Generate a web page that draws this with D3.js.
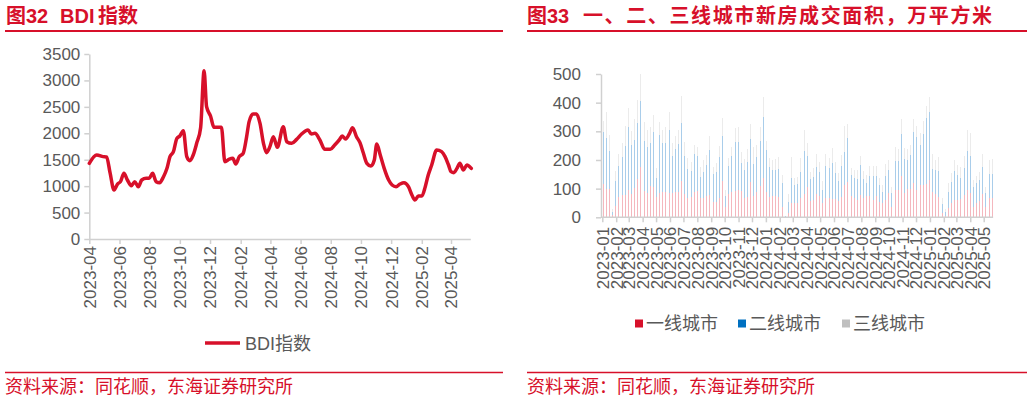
<!DOCTYPE html>
<html><head><meta charset="utf-8">
<script src="https://cdn.jsdelivr.net/npm/d3@7"></script>
<style>
html,body{margin:0;padding:0;background:#fff;}
svg{display:block;font-family:"Liberation Sans","Noto Sans CJK SC",sans-serif;}
</style></head>
<body>
<svg id="c" width="1032" height="402"></svg>
<script>
// ---------------- DATA ----------------
// Left chart: BDI index
const bdiDates = ["2023-04-01","2023-04-16","2023-04-29","2023-05-06","2023-05-13","2023-05-21","2023-05-28","2023-06-03","2023-06-10","2023-06-17","2023-06-25","2023-07-02","2023-07-09","2023-07-16","2023-07-25","2023-07-31","2023-08-07","2023-08-14","2023-08-21","2023-08-29","2023-09-05","2023-09-11","2023-09-18","2023-09-25","2023-10-01","2023-10-08","2023-10-15","2023-10-21","2023-10-28","2023-11-04","2023-11-12","2023-11-19","2023-11-24","2023-12-02","2023-12-09","2023-12-18","2023-12-24","2023-12-31","2024-01-09","2024-01-16","2024-01-22","2024-01-29","2024-02-06","2024-02-13","2024-02-18","2024-02-26","2024-03-04","2024-03-11","2024-03-18","2024-03-24","2024-03-31","2024-04-07","2024-04-15","2024-04-27","2024-05-04","2024-05-14","2024-05-24","2024-06-03","2024-06-16","2024-06-23","2024-06-30","2024-07-10","2024-07-20","2024-07-31","2024-08-09","2024-08-19","2024-08-24","2024-08-31","2024-09-08","2024-09-14","2024-09-22","2024-09-29","2024-10-06","2024-10-13","2024-10-21","2024-10-28","2024-11-02","2024-11-09","2024-11-17","2024-11-26","2024-12-03","2024-12-11","2024-12-19","2024-12-27","2025-01-05","2025-01-12","2025-01-18","2025-01-25","2025-02-01","2025-02-08","2025-02-14","2025-02-21","2025-03-03","2025-03-13","2025-03-20","2025-03-27","2025-04-01","2025-04-07","2025-04-13","2025-04-19","2025-04-26","2025-05-03","2025-05-12"];
const bdiValues = [1431,1589,1558,1550,1250,927,1040,1085,1242,1116,1009,1085,990,1116,1148,1148,1242,1085,1066,1179,1337,1558,1652,1904,1949,2049,1558,1482,1589,1810,2106,3185,2503,2327,2112,2112,2112,1463,1513,1526,1419,1558,1621,1936,2220,2365,2365,2188,1810,1633,1747,1936,1734,2125,1841,1810,1885,1986,2062,1986,1999,1873,1696,1696,1778,1885,1949,1892,1999,2106,1936,1822,1621,1431,1381,1495,1797,1589,1337,1116,1022,990,1040,1066,990,832,738,813,813,990,1211,1400,1684,1652,1558,1400,1274,1255,1337,1431,1305,1400,1337];
const bdiTicks = ["2023-04","2023-06","2023-08","2023-10","2023-12","2024-02","2024-04","2024-06","2024-08","2024-10","2024-12","2025-02","2025-04"];
const bdiYTicks = [0,500,1000,1500,2000,2500,3000,3500];

// Right chart: weekly new-home transaction area (10k m2), weeks starting 2023-01-02
const weekStart = "2023-01-02";
const tier1 = [117,100,100,9,38,70,78,79,96,82,102,134,177,92,85,110,106,70,86,90,88,86,84,90,90,128,81,69,72,90,91,68,67,74,78,52,53,69,126,36,81,88,92,95,91,68,71,124,75,88,109,136,90,72,76,75,72,37,2,15,51,51,49,66,80,104,57,61,80,73,49,67,67,65,65,57,71,114,122,74,66,60,79,67,74,75,61,76,53,51,59,84,37,95,96,145,86,100,99,119,96,113,113,117,130,87,83,72,15,6,31,49,62,61,63,79,96,86,37,49,56,82,37,66,66];
const tier2 = [182,175,133,11,90,110,132,171,220,169,169,195,229,174,162,150,193,67,201,168,172,219,130,148,166,202,134,100,91,131,122,74,91,110,157,100,104,141,158,39,98,126,171,169,99,97,123,148,111,124,158,213,145,102,88,91,98,84,2,37,87,62,66,91,151,111,77,81,97,86,47,112,104,126,91,71,107,114,154,75,72,75,102,68,47,70,84,69,61,39,85,81,49,103,102,146,118,99,118,180,185,139,178,228,239,83,82,91,32,12,59,73,98,85,74,93,136,129,69,70,75,95,47,85,86];
const tier3 = [38,91,53,10,34,40,49,68,64,51,71,80,94,68,57,56,58,34,47,47,56,64,44,46,49,94,47,37,29,31,31,35,42,33,49,25,33,39,62,20,27,33,47,52,38,37,43,54,61,40,49,72,32,32,36,39,42,27,2,29,71,24,27,50,74,43,25,31,43,34,31,41,36,50,36,27,41,92,49,22,27,30,32,27,25,34,34,34,23,23,42,34,20,46,42,52,39,41,35,44,39,42,44,44,51,50,35,47,22,11,29,34,40,38,39,42,71,78,24,25,26,43,23,48,51];
const tierNames = ["一线城市","二线城市","三线城市"];
const monthTicks = ["2023-01","2023-02","2023-03","2023-04","2023-05","2023-06","2023-07","2023-08","2023-09","2023-10","2023-11","2023-12","2024-01","2024-02","2024-03","2024-04","2024-05","2024-06","2024-07","2024-08","2024-09","2024-10","2024-11","2024-12","2025-01","2025-02","2025-03","2025-04","2025-05"];
const areaYTicks = [0,100,200,300,400,500];

// ---------------- STYLE ----------------
const RED = "#d7102a";
const TXT = "#595959";
const AX = "#d0d0d0";
const legendColors = ["#d7102a","#0070c0","#bfbfbf"];
const barColors = ["#f4b7be","#a9cdea","#ebebeb"];

const svg = d3.select("#c");
svg.append("rect").attr("width",1032).attr("height",402).attr("fill","#fff");

const parseD = d3.timeParse("%Y-%m-%d");
const parseM = d3.timeParse("%Y-%m");
const fmtM = d3.timeFormat("%Y-%m");
const fmtN = d3.format("d");

// ---------- frame: titles, rules, sources ----------
function frame(x0, x1, titleParts) {
  svg.append("line").attr("x1",x0).attr("x2",x1).attr("y1",31).attr("y2",31)
    .attr("stroke",RED).attr("stroke-width",2);
  svg.append("line").attr("x1",x0).attr("x2",x1).attr("y1",372.5).attr("y2",372.5)
    .attr("stroke",RED).attr("stroke-width",1.5);
  const t = svg.append("text").attr("y",23).attr("fill",RED)
    .attr("font-size",20).attr("font-weight","bold");
  titleParts.forEach(p => {
    const s = t.append("tspan").attr("x",p[0]).text(p[1]);
    if (p[2]) s.attr("textLength",p[2]).attr("lengthAdjust","spacing");
  });
  svg.append("text").attr("x",x0).attr("y",393).attr("fill",RED)
    .attr("font-size",18).text("资料来源：同花顺，东海证券研究所");
}
frame(5, 503, [[6,"图32"],[60,"BDI"],[98,"指数"]]);
frame(527, 1027, [[527,"图33"],[583,"一、二、三线城市新房成交面积，万平方米",409]]);

// ---------- LEFT: BDI line ----------
{
  const x = d3.scaleTime().domain([parseD("2023-04-01"), parseD("2025-05-10")]).range([89.3, 470.3]);
  const y = d3.scaleLinear().domain([0,3500]).range([239,54]);

  const gy = svg.append("g").attr("transform","translate(89.3,0)")
    .call(d3.axisLeft(y).tickValues(bdiYTicks).tickFormat(fmtN).tickSize(5).tickPadding(4).tickSizeOuter(0));
  gy.select(".domain").attr("stroke",AX).attr("stroke-width",1.5);
  gy.selectAll(".tick line").attr("stroke",AX).attr("stroke-width",1.5);
  gy.selectAll("text").attr("fill",TXT).attr("font-size",17).attr("font-family",null);

  const gx = svg.append("g").attr("transform","translate(0,239)")
    .call(d3.axisBottom(x).tickValues(bdiTicks.map(parseM)).tickFormat(fmtM).tickSize(5).tickSizeOuter(0));
  gx.select(".domain").attr("stroke",AX).attr("stroke-width",1.5);
  gx.selectAll(".tick line").attr("stroke",AX).attr("stroke-width",1.5);
  gx.selectAll("text").attr("fill",TXT).attr("font-size",17).attr("font-family",null)
    .attr("transform","rotate(-90)").attr("text-anchor","end")
    .attr("x",-7).attr("y",0).attr("dy","0.35em");

  const pts = bdiDates.map((d,i)=>({d:parseD(d), v:bdiValues[i]}));
  svg.append("path").datum(pts)
    .attr("d", d3.line().x(p=>x(p.d)).y(p=>y(p.v)).curve(d3.curveMonotoneX))
    .attr("fill","none").attr("stroke",RED).attr("stroke-width",3.5)
    .attr("stroke-linejoin","round").attr("stroke-linecap","round");

  // legend
  svg.append("line").attr("x1",205).attr("x2",240).attr("y1",343).attr("y2",343)
    .attr("stroke",RED).attr("stroke-width",3.5);
  svg.append("text").attr("x",245).attr("y",349.5).attr("fill",TXT).attr("font-size",18).text("BDI指数");
}

// ---------- RIGHT: stacked weekly bars ----------
{
  const x = d3.scaleTime().domain([parseM("2023-01"), parseM("2025-05")]).range([602.3, 983.7]);
  const y = d3.scaleLinear().domain([0,500]).range([217.3,74]);
  const start = parseD(weekStart);
  const rows = tier1.map((v,i)=>({date:d3.timeDay.offset(start, 7*i), t1:v, t2:tier2[i], t3:tier3[i]}));
  const series = d3.stack().keys(["t1","t2","t3"])(rows);

  series.forEach((s,si)=>{
    svg.append("g").attr("fill",barColors[si]).attr("shape-rendering","crispEdges")
      .selectAll("rect").data(s).join("rect")
        .attr("x", d=>Math.round(x(d.data.date)) - 0.5)
        .attr("width", 1.2)
        .attr("y", d=>y(d[1]))
        .attr("height", d=>Math.max(0, y(d[0]) - y(d[1])));
  });

  const gy = svg.append("g").attr("transform","translate(601,0)")
    .call(d3.axisLeft(y).tickValues(areaYTicks).tickFormat(fmtN).tickSize(5).tickPadding(15).tickSizeOuter(0));
  gy.select(".domain").attr("stroke",AX).attr("stroke-width",1.5);
  gy.selectAll(".tick line").attr("stroke",AX).attr("stroke-width",1.5);
  gy.selectAll("text").attr("fill",TXT).attr("font-size",17).attr("font-family",null);

  const gx = svg.append("g").attr("transform","translate(0,217.3)")
    .call(d3.axisBottom(x).tickValues(monthTicks.map(parseM)).tickFormat(fmtM).tickSize(5).tickSizeOuter(0));
  gx.select(".domain").remove();
  gx.append("line").attr("x1", x(d3.timeDay.offset(parseM("2023-01"),-3))).attr("x2", x(parseD("2025-05-22")))
    .attr("stroke",AX).attr("stroke-width",1.5);
  gx.selectAll(".tick line").attr("stroke",AX).attr("stroke-width",1.5);
  gx.selectAll("text").attr("fill",TXT).attr("font-size",17).attr("font-family",null)
    .attr("transform","rotate(-90)").attr("text-anchor","end")
    .attr("x",-9.5).attr("y",0).attr("dy","0.35em");

  // legend
  const lx = [635, 738, 842];
  tierNames.forEach((n,i)=>{
    svg.append("rect").attr("x",lx[i]).attr("y",319.5).attr("width",8).attr("height",8).attr("fill",legendColors[i]);
    svg.append("text").attr("x",lx[i]+11).attr("y",329.5).attr("fill",TXT).attr("font-size",18).text(n);
  });
}
</script>
</body></html>
